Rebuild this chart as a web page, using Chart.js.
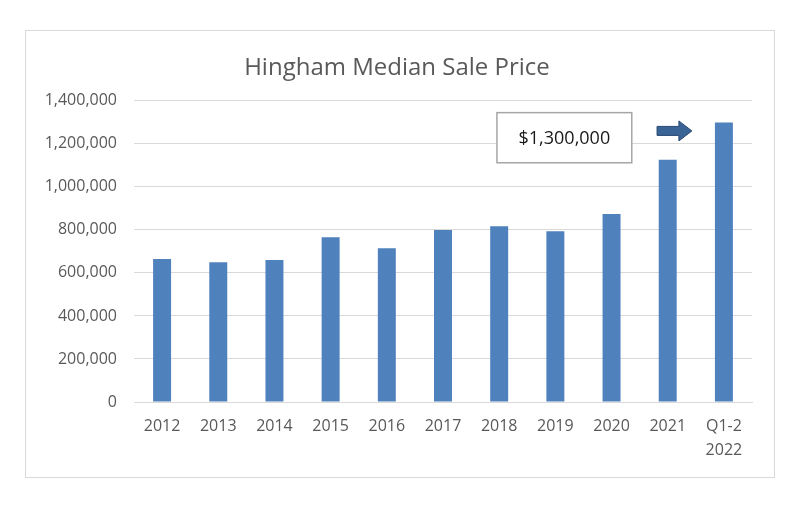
<!DOCTYPE html>
<html>
<head>
<meta charset="utf-8">
<script src="https://cdn.jsdelivr.net/npm/chart.js@4"></script>
<style>
    body { margin: 0; background: #fff; }
    #box {
        position: absolute;
        left: 25px; top: 30px;
        width: 748px; height: 446px;
        border: 1px solid #d9d9d9;
    }
</style>
</head>
<body>
<div id="box"><canvas id="priceChart"></canvas></div>
<script>
const years = ['2012', '2013', '2014', '2015', '2016', '2017', '2018', '2019', '2020', '2021', ['Q1-2', '2022']];
const medianPrices = [665000, 650000, 660000, 766000, 715000, 800000, 817000, 794000, 874000, 1126000, 1299000];
const calloutText = '$1,300,000';

const textColor = '#595959';
const gridColor = '#d9d9d9';

// callout box + arrow pointing at the last bar
const calloutPlugin = {
    id: 'callout',
    afterDraw(chart) {
        const ctx = chart.ctx;
        const x = chart.scales.x;
        const y = chart.scales.y;

        const left = x.getPixelForValue(5.96);
        const right = x.getPixelForValue(8.36);
        const top = y.getPixelForValue(1345000);
        const bottom = y.getPixelForValue(1112000);

        ctx.save();
        ctx.fillStyle = '#fff';
        ctx.fillRect(left, top, right - left, bottom - top);
        ctx.strokeStyle = '#a6a6a6';
        ctx.lineWidth = 1.5;
        ctx.strokeRect(left, top, right - left, bottom - top);
        ctx.fillStyle = '#1a1a1a';
        ctx.font = '18px "Open Sans"';
        ctx.textAlign = 'center';
        ctx.textBaseline = 'middle';
        ctx.fillText(calloutText, (left + right) / 2, (top + bottom) / 2 + 1);

        // arrow
        const ax0 = x.getPixelForValue(8.81);
        const ax1 = x.getPixelForValue(9.43);
        const ay = y.getPixelForValue(1260000);
        const head = 13;
        ctx.beginPath();
        ctx.moveTo(ax0, ay - 4.5);
        ctx.lineTo(ax1 - head, ay - 4.5);
        ctx.lineTo(ax1 - head, ay - 10);
        ctx.lineTo(ax1, ay);
        ctx.lineTo(ax1 - head, ay + 10);
        ctx.lineTo(ax1 - head, ay + 4.5);
        ctx.lineTo(ax0, ay + 4.5);
        ctx.closePath();
        ctx.fillStyle = '#3a6496';
        ctx.fill();
        ctx.strokeStyle = '#2a4a74';
        ctx.lineWidth = 1;
        ctx.stroke();
        ctx.restore();
    }
};

const ctx = document.getElementById('priceChart').getContext('2d');
const priceChart = new Chart(ctx, {
    type: 'bar',
    data: {
        labels: years,
        datasets: [{
            label: 'Median Sale Price',
            data: medianPrices,
            backgroundColor: '#4f81bd',
            barPercentage: 0.32,
            categoryPercentage: 1
        }]
    },
    options: {
        responsive: true,
        maintainAspectRatio: false,
        animation: false,
        layout: {
            padding: { left: 16, right: 22, top: 0, bottom: 11 }
        },
        plugins: {
            legend: { display: false },
            tooltip: { enabled: false },
            title: {
                display: true,
                text: 'Hingham Median Sale Price',
                color: textColor,
                font: { family: 'Open Sans', size: 24, weight: 'normal' },
                padding: { top: 23, bottom: 18 }
            }
        },
        scales: {
            x: {
                grid: { display: false },
                border: { display: true, color: gridColor },
                ticks: {
                    color: textColor,
                    font: { family: 'Open Sans', size: 16, lineHeight: 1.5 },
                    padding: 4,
                    maxRotation: 0,
                    autoSkip: false
                }
            },
            y: {
                min: 0,
                max: 1400000,
                grid: { color: gridColor, drawTicks: false },
                border: { display: false },
                afterFit(scale) { scale.width = 92; },
                ticks: {
                    stepSize: 200000,
                    color: textColor,
                    padding: 17,
                    font: { family: 'Open Sans', size: 16 },
                    callback: v => v.toLocaleString('en-US')
                }
            }
        }
    },
    plugins: [calloutPlugin]
});
</script>
</body>
</html>
